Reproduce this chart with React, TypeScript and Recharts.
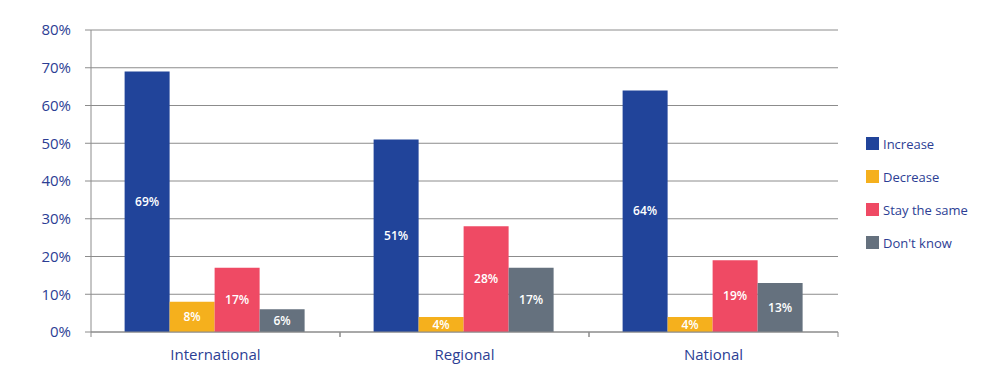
import { BarChart, Bar, XAxis, YAxis, CartesianGrid, Legend, LabelList } from 'recharts'

const categories = ['International', 'Regional', 'National']
const increase = [69, 51, 64]
const decrease = [8, 4, 4]
const staySame = [17, 28, 19]
const dontKnow = [6, 17, 13]
const yTicks = [0, 10, 20, 30, 40, 50, 60, 70, 80]

const seriesInfo = [
  { key: 'increase', name: 'Increase', color: '#21449a' },
  { key: 'decrease', name: 'Decrease', color: '#f5b01d' },
  { key: 'same', name: 'Stay the same', color: '#ef4a64' },
  { key: 'dontKnow', name: "Don't know", color: '#65717e' },
]

const chartData = categories.map((name, i) => ({
  name,
  increase: increase[i],
  decrease: decrease[i],
  same: staySame[i],
  dontKnow: dontKnow[i],
}))

const textColor = '#2c3e94'
const gridColor = '#8c8c8c'
const font = '"Open Sans", sans-serif'

function CategoryTick(props: any) {
  const { x, y, payload } = props
  const half = payload.offset || 0
  return (
    <g>
      <line x1={x - half} y1={y - 8} x2={x - half} y2={y - 3} stroke={gridColor} />
      <line x1={x + half} y1={y - 8} x2={x + half} y2={y - 3} stroke={gridColor} />
      <text x={x} y={y + 20} textAnchor="middle" fill={textColor} fontSize={15} fontFamily={font}>
        {payload.value}
      </text>
    </g>
  )
}

function LegendBox() {
  return (
    <div style={{ fontFamily: font }}>
      {seriesInfo.map((s) => (
        <div key={s.key} style={{ display: 'flex', alignItems: 'center', height: 33 }}>
          <span style={{ width: 13, height: 13, background: s.color, display: 'inline-block', marginRight: 4 }} />
          <span style={{ color: textColor, fontSize: 13 }}>{s.name}</span>
        </div>
      ))}
    </div>
  )
}

export default function App() {
  return (
    <div style={{ position: 'absolute', left: 0, top: 0, background: '#fff' }}>
      <BarChart
        width={1000}
        height={384}
        data={chartData}
        margin={{ top: 30, right: 162, bottom: 22, left: 0 }}
        barCategoryGap="13.5%"
        barGap={0}
      >
        <CartesianGrid vertical={false} stroke={gridColor} />
        <XAxis
          dataKey="name"
          height={30}
          axisLine={{ stroke: gridColor }}
          tickLine={false}
          tick={<CategoryTick />}
          interval={0}
        />
        <YAxis
          width={91}
          domain={[0, 80]}
          ticks={yTicks}
          tickFormatter={(v) => `${v}%`}
          axisLine={{ stroke: gridColor }}
          tickLine={{ stroke: gridColor }}
          tickSize={6}
          tickMargin={14}
          tick={{ fill: textColor, fontSize: 15, fontFamily: font }}
        />
        <Legend
          layout="vertical"
          align="center"
          verticalAlign="middle"
          content={<LegendBox />}
          wrapperStyle={{ left: 866, top: 127, width: 'auto' }}
        />
        {seriesInfo.map((s) => (
          <Bar key={s.key} dataKey={s.key} name={s.name} fill={s.color} isAnimationActive={false}>
            <LabelList
              dataKey={s.key}
              position="center"
              fill="#ffffff"
              fontSize={12}
              fontWeight={600}
              fontFamily={font}
              formatter={(v: any) => `${v}%`}
            />
          </Bar>
        ))}
      </BarChart>
    </div>
  )
}
